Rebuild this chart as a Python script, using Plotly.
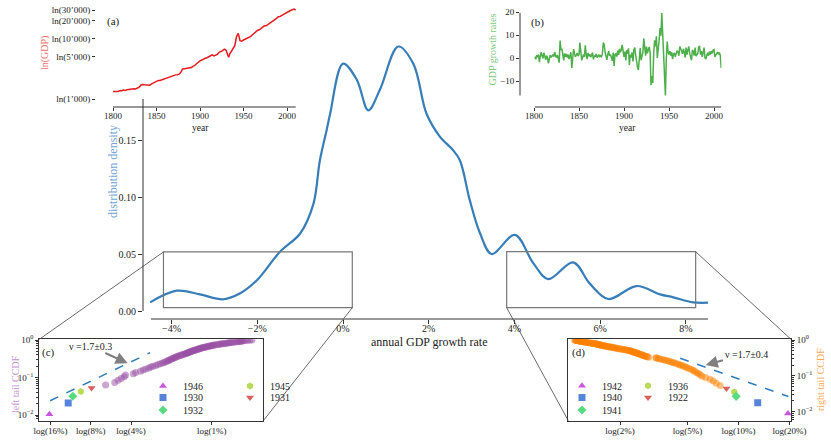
import math
import plotly.graph_objects as go

# ---------------- data ----------------
gdp_years = [1800, 1802, 1804, 1806, 1808, 1810, 1812, 1814, 1816, 1818,
             1820, 1822, 1824, 1826, 1828, 1830, 1832, 1834, 1836, 1838,
             1840, 1842, 1844, 1846, 1848, 1850, 1852, 1854, 1856, 1858,
             1860, 1862, 1864, 1866, 1868, 1870, 1872, 1874, 1876, 1878,
             1880, 1882, 1884, 1886, 1888, 1890, 1892, 1894, 1896, 1898,
             1900, 1902, 1904, 1906, 1908, 1910, 1912, 1914, 1916, 1918,
             1920, 1922, 1924, 1926, 1928, 1930, 1932, 1933, 1934, 1936, 1938,
             1940, 1942, 1944, 1946, 1948, 1950, 1952, 1954, 1956, 1958,
             1960, 1962, 1964, 1966, 1968, 1970, 1972, 1974, 1976, 1978,
             1980, 1982, 1984, 1986, 1988, 1990, 1992, 1994, 1996, 1998,
             2000, 2002, 2004, 2006, 2008, 2010]
gdp_level = [1330, 1340, 1350, 1330, 1380, 1370, 1410, 1390, 1420, 1440,
             1450, 1470, 1480, 1470, 1500, 1570, 1700, 1740, 1720, 1720,
             1690, 1700, 1770, 1830, 1880, 1940, 2040, 2030, 2080, 2160,
             2210, 2230, 2300, 2350, 2370, 2460, 2520, 2540, 2590, 2780,
             3170, 3200, 3230, 3260, 3300, 3330, 3500, 3610, 3870, 4150,
             4320, 4450, 4680, 4770, 4860, 5010, 5330, 5430, 5220, 5380,
             5540, 6000, 6130, 6380, 6760, 6500, 5350, 4960, 5540, 6250, 6840,
             7700, 10940, 12330, 9320, 9130, 9600, 9900, 10100, 10500, 10940,
             11600, 12330, 13100, 13800, 14200, 14900, 15700, 16500, 16500, 17300,
             18250, 18600, 20100, 21100, 22000, 23400, 23600, 24600, 25600, 26900,
             28300, 28600, 29700, 30600, 31300, 30300]

growth_years = list(range(1801, 2009))
growth_rate = [
    0.5, -0.5, 1.2, 0.3, 1.5, -1.8, 0.8, 2.5, 1.0, -0.2,
    2.3, 0.5, -0.8, 1.0, 0.2, -2.3, 0.5, 1.2, 0.3, 0.8,
    1.5, 0.6, 2.6, 0.9, 0.2, 1.3, -0.5, -2.0, 7.6, 3.5,
    4.0, 1.5, -1.0, 2.0, 0.5, 1.8, 0.2, 1.5, -0.5, 1.0,
    2.5, -4.3, 1.2, 3.9, 2.0, 0.5, 1.3, 2.2, 0.8, 1.5,
    6.7, 1.0, -1.0, 0.2, 1.5, 0.5, 5.5, 1.3, -0.5, 2.2,
    0.8, 1.6, 0.3, 1.2, 2.4, -0.6, 1.0, 0.5, 1.8, 0.2,
    0.9, 1.5, 0.4, 1.0, 0.6, 1.9, 6.7, 5.8, 2.5, 1.0,
    -0.8, 1.7, 3.0, 0.9, 1.5, 0.2, -1.2, 2.4, -3.5, 1.6,
    2.0, 0.6, 3.2, 1.3, 4.0, 2.5, 3.5, 5.7, 2.0, 0.5,
    2.8, -1.0, 3.5, 1.8, 4.2, -3.0, 1.5, 0.2, 2.4, -1.5,
    3.7, 4.5, 1.2, -2.0, -4.0, -5.2, 2.3, 4.3, -1.0, 0.5,
    2.5, 8.5, 3.0, 1.0, 5.0, 2.0, 3.6, 4.8, 2.5, -11.8,
    -7.9, -10.9, 2.0, 7.7, 5.0, 9.45, 0.0, 3.0, 7.4, 13.0,
    9.7, 19.6, 10.0, 0.8, -9.5, -16.3, -0.5, 7.2, 2.5, 1.5,
    3.0, 1.0, 2.5, -0.5, 1.8, 2.2, 0.5, 1.5, 3.2, 2.6,
    1.0, 5.0, 3.5, 3.0, 1.8, 4.0, 2.5, 0.2, 4.5, 1.5,
    3.5, 5.0, 2.0, 0.0, -1.0, 3.5, 2.8, 1.0, 4.5, 0.8,
    1.5, 2.0, 4.8, 5.0, 1.5, 3.0, 0.5, 2.5, 4.5, 0.0,
    -0.5, 1.2, 2.3, 1.0, 2.8, 1.5, 3.0, 2.0, 3.5, 3.7,
    0.5, 1.2, 2.2, 2.6, 1.5, 2.4, 1.0, -4.3]

kde_x = [-4.5, -3.88, -3.34, -2.79, -2.40, -2.01, -1.47, -1.0, -0.69, -0.54,
         -0.38, -0.30, 0.0, 0.32, 0.59, 0.86, 1.29, 1.64, 1.95, 2.26,
         2.57, 2.73, 2.96, 3.20, 3.47, 4.01, 4.44, 4.79, 5.37, 5.76,
         6.19, 6.85, 7.40, 7.71, 8.17, 8.52]
kde_density = [0.0076, 0.0178, 0.0146, 0.0103, 0.0155, 0.027, 0.052, 0.068, 0.094, 0.132,
               0.159, 0.173, 0.217, 0.203, 0.176, 0.194, 0.232, 0.217, 0.173, 0.153,
               0.141, 0.132, 0.097, 0.068, 0.050, 0.0667, 0.042, 0.028, 0.0427, 0.024,
               0.0105, 0.0219, 0.0146, 0.012, 0.0076, 0.0073]

# left tail: magnitudes of negative growth (%)
left_special_years = [1946, 1930, 1932, 1945, 1931]
left_special_vals = [16.3, 11.8, 10.9, 9.5, 7.9]
left_bulk = [6.2, 5.3, 5.0, 4.75, 4.5, 4.4, 3.85, 3.7, 3.4, 3.25,
             3.1, 2.95, 2.85, 2.75, 2.62, 2.52, 2.42, 2.33, 2.27, 2.2,
             2.15, 2.1, 2.06, 2.02, 1.97, 1.94, 1.9, 1.86, 1.83, 1.79,
             1.75, 1.71, 1.68, 1.64, 1.6, 1.57, 1.54, 1.52, 1.49, 1.47,
             1.45, 1.42, 1.4, 1.38, 1.36, 1.34, 1.31, 1.29, 1.27, 1.25,
             1.23, 1.21, 1.19, 1.17, 1.15, 1.13, 1.11, 1.09, 1.07, 1.05,
             1.03, 1.01, 0.99, 0.97, 0.96, 0.93, 0.9, 0.88, 0.86, 0.84,
             0.82, 0.8, 0.78, 0.76, 0.74, 0.73, 0.71, 0.69, 0.67, 0.65,
             0.64, 0.62, 0.61, 0.6, 0.59, 0.58, 0.56, 0.54, 0.52, 0.5]

right_special_years = [1942, 1940, 1941, 1936, 1922]
right_special_vals = [19.6, 13.0, 9.7, 9.45, 8.5]
right_bulk = [7.8, 7.4, 7.1, 6.8, 6.4, 6.1, 5.95, 5.8, 5.65, 5.5,
              5.4, 5.25, 5.1, 4.95, 4.85, 4.72, 4.6, 4.5, 4.38, 4.25,
              4.15, 4.05, 3.94, 3.85, 3.75, 3.65, 3.55, 3.45, 3.37, 3.29,
              3.25, 2.95, 2.9, 2.85, 2.81, 2.77, 2.73, 2.7, 2.66, 2.62,
              2.58, 2.55, 2.52, 2.49, 2.46, 2.43, 2.4, 2.37, 2.34, 2.31,
              2.29, 2.25, 2.22, 2.18, 2.14, 2.1, 2.06, 2.02, 1.98, 1.94,
              1.91, 1.88, 1.85, 1.82, 1.79, 1.76, 1.73, 1.71, 1.68, 1.66,
              1.64, 1.62, 1.6, 1.58, 1.56, 1.54, 1.52, 1.5, 1.49, 1.47,
              1.46, 1.45, 1.43, 1.41, 1.39, 1.37, 1.35, 1.33, 1.31, 1.29,
              1.28, 1.26, 1.25, 1.23, 1.21, 1.2, 1.18, 1.17, 1.16, 1.15,
              1.14, 1.13, 1.12, 1.11, 1.1, 1.09, 1.08]

left_fit_x = [16.1, 2.89]
left_fit_y = [0.024, 0.458]
right_fit_x = [4.53, 19.7]
right_fit_y = [0.31, 0.0266]

main_xticks = [-4, -2, 0, 2, 4, 6, 8]
main_xticklabels = ["−4%", "−2%", "0%", "2%", "4%", "6%", "8%"]
main_yticks = [0.0, 0.05, 0.10, 0.15]
main_yticklabels = ["0.00", "0.05", "0.10", "0.15"]
gdp_ticks = [1000, 5000, 10000, 20000, 30000]
gdp_ticklabels = ["ln(1’000)", "ln(5’000)", "ln(10’000)", "ln(20’000)", "ln(30’000)"]
year_ticks = [1800, 1850, 1900, 1950, 2000]
growth_ticks = [-10, 0, 10, 20]
growth_ticklabels = ["−10", "0", "10", "20"]
left_xticks = [16, 8, 4, 1]
left_xticklabels = ["log(16%)", "log(8%)", "log(4%)", "log(1%)"]
right_xticks = [2, 5, 10, 20]
right_xticklabels = ["log(2%)", "log(5%)", "log(10%)", "log(20%)"]
ccdf_ticks = [1, 0.1, 0.01]
ccdf_ticklabels = ["10<sup>0</sup>", "10<sup>−1</sup>", "10<sup>−2</sup>"]


def ccdf(sample):
    n = len(sample)
    return [sum(1 for w in sample if w >= v) / n for v in sample]


left_sample = left_special_vals + left_bulk
left_cc = ccdf(left_sample)
right_sample = right_special_vals + right_bulk
right_cc = ccdf(right_sample)

# ---------------- geometry ----------------
W, H = 831, 442
def fx(px): return px / W
def fy(py): return 1 - py / H

FONT = "Liberation Serif, DejaVu Serif, serif"
INK = "#222222"

X0, XS = 343.0, 42.85
Y0, YS = 311.0, 1140.0
def mpx(x): return X0 + XS * x
def mpy(y): return Y0 - YS * y
M_L, M_R, M_T, M_B = 143, 708, 37, 319

SYM = {"tri": ("triangle-up", "#c957db"), "sq": ("square", "#5784db"),
       "dia": ("diamond", "#57db80"), "hex": ("hexagon", "#b9db57"),
       "tdn": ("triangle-down", "#db5f57")}
left_styles = ["tri", "sq", "dia", "hex", "tdn"]
right_styles = ["tri", "sq", "dia", "hex", "tdn"]

fig = go.Figure()

fig.add_trace(go.Scatter(x=kde_x, y=kde_density, mode="lines",
                         line=dict(color="#377eb8", width=2.2, shape="spline", smoothing=1.0),
                         xaxis="x", yaxis="y", showlegend=False, hoverinfo="skip"))
fig.add_trace(go.Scatter(x=gdp_years, y=gdp_level, mode="lines",
                         line=dict(color="#e41a1c", width=1.5),
                         xaxis="x2", yaxis="y2", showlegend=False))
fig.add_trace(go.Scatter(x=growth_years, y=growth_rate, mode="lines",
                         line=dict(color="#4daf4a", width=1.5),
                         xaxis="x3", yaxis="y3", showlegend=False))
fig.add_trace(go.Scatter(x=left_bulk, y=left_cc[5:], mode="markers",
                         marker=dict(color="rgba(152,78,163,0.5)", size=7, line=dict(width=0)),
                         xaxis="x4", yaxis="y4", showlegend=False))
fig.add_trace(go.Scatter(x=left_fit_x, y=left_fit_y, mode="lines",
                         line=dict(color="#2f7ec0", width=1.5, dash="dash"),
                         xaxis="x4", yaxis="y4", showlegend=False))
fig.add_trace(go.Scatter(x=right_bulk, y=right_cc[5:], mode="markers",
                         marker=dict(color="rgba(255,127,0,0.5)", size=7, line=dict(width=0)),
                         xaxis="x5", yaxis="y5", showlegend=False))
fig.add_trace(go.Scatter(x=right_fit_x, y=right_fit_y, mode="lines",
                         line=dict(color="#2f7ec0", width=1.5, dash="dash"),
                         xaxis="x5", yaxis="y5", showlegend=False))

left_rows = {"legend2": [0, 3], "legend3": [1, 4], "legend4": [2]}
right_rows = {"legend5": [0, 3], "legend6": [1, 4], "legend7": [2]}
for leg, idxs in left_rows.items():
    for i in idxs:
        sym, col = SYM[left_styles[i]]
        fig.add_trace(go.Scatter(x=[left_special_vals[i]], y=[left_cc[i]], mode="markers",
                                 marker=dict(symbol=sym, color=col, size=7, line=dict(width=0)),
                                 name=str(left_special_years[i]), legend=leg,
                                 xaxis="x4", yaxis="y4"))
for leg, idxs in right_rows.items():
    for i in idxs:
        sym, col = SYM[right_styles[i]]
        fig.add_trace(go.Scatter(x=[right_special_vals[i]], y=[right_cc[i]], mode="markers",
                                 marker=dict(symbol=sym, color=col, size=7, line=dict(width=0)),
                                 name=str(right_special_years[i]), legend=leg,
                                 xaxis="x5", yaxis="y5"))

tickfont_main = dict(family=FONT, size=10, color=INK)
tickfont_in = dict(family=FONT, size=9, color=INK)
common = dict(showgrid=False, zeroline=False, ticks="outside", tickcolor="#333",
              tickwidth=1, color=INK, automargin=False)

layout = dict(
    template="none",
    width=W, height=H, margin=dict(l=0, r=0, t=0, b=0, pad=0, autoexpand=False),
    paper_bgcolor="white", plot_bgcolor="white",
    font=dict(family=FONT, color=INK),
    xaxis=dict(domain=[fx(M_L), fx(M_R)], range=[(M_L - X0) / XS, (M_R - X0) / XS],
               tickvals=main_xticks, ticktext=main_xticklabels, ticklen=4,
               ticklabelstandoff=-4,
               tickfont=tickfont_main, showline=False, anchor="y", **common),
    yaxis=dict(domain=[fy(M_B), fy(M_T)], range=[(Y0 - M_B) / YS, (Y0 - M_T) / YS],
               tickvals=main_yticks, ticktext=main_yticklabels, ticklen=4,
               tickfont=tickfont_main, showline=False, anchor="x", **common),
)

A_L, A_R, A_T, A_B = 96, 297, 8, 107
a_x0, a_xs = 113.0, 0.87
a_y1000, a_ys = 99.0, 26.1
def a_ln(py): return math.log(1000) + (a_y1000 - py) / a_ys
layout["xaxis2"] = dict(domain=[fx(A_L), fx(A_R)],
                        range=[1800 + (A_L - a_x0) / a_xs, 1800 + (A_R - a_x0) / a_xs],
                        tickvals=year_ticks, ticklen=3, tickfont=tickfont_in,
                        ticklabelstandoff=-3,
                        anchor="y2", showline=False, **common)
layout["yaxis2"] = dict(domain=[fy(A_B), fy(A_T)], type="log",
                        range=[a_ln(A_B) / math.log(10), a_ln(A_T) / math.log(10)],
                        tickvals=gdp_ticks, ticktext=gdp_ticklabels, ticklen=3,
                        tickfont=tickfont_in, anchor="x2", showline=False, **common)
B_L, B_R, B_T, B_B = 520, 721.5, 8, 107
b_x0, b_xs = 534.0, 0.9
b_y0, b_ys = 58.0, 2.3
layout["xaxis3"] = dict(domain=[fx(B_L), fx(B_R)],
                        range=[1800 + (B_L - b_x0) / b_xs, 1800 + (B_R - b_x0) / b_xs],
                        tickvals=year_ticks, ticklen=3, tickfont=tickfont_in,
                        ticklabelstandoff=-3,
                        anchor="y3", showline=False, **common)
layout["yaxis3"] = dict(domain=[fy(B_B), fy(B_T)],
                        range=[(b_y0 - B_B) / b_ys, (b_y0 - B_T) / b_ys],
                        tickvals=growth_ticks, ticktext=growth_ticklabels, ticklen=3,
                        tickfont=tickfont_in, anchor="x3", showline=False, **common)
C_L, C_R, C_T, C_B = 39.3, 263.3, 339.3, 420.7
c_x1, c_xs = 211.7, 40.3
c_y0, c_ys = 340.0, 37.5
minor_vals = [k * 10 ** e for e in (-3, -2, -1) for k in range(2, 10)]
layout["xaxis4"] = dict(domain=[fx(C_L), fx(C_R)], type="log",
                        range=[math.log10(2 ** ((c_x1 - C_L) / c_xs)), math.log10(2 ** ((c_x1 - C_R) / c_xs))],
                        tickvals=left_xticks, ticktext=left_xticklabels, ticklen=3,
                        ticklabelstandoff=-2,
                        tickfont=tickfont_in, anchor="y4", showline=True, mirror=True,
                        linecolor="#333", linewidth=1, **common)
layout["yaxis4"] = dict(domain=[fy(C_B), fy(C_T)], type="log",
                        range=[-(C_B - c_y0) / c_ys, -(C_T - c_y0) / c_ys],
                        tickvals=ccdf_ticks, ticktext=ccdf_ticklabels, ticklen=3,
                        minor=dict(tickvals=minor_vals, ticklen=2, ticks="outside", tickcolor="#333"),
                        tickfont=tickfont_in, anchor="x4", showline=True, mirror=True,
                        linecolor="#333", linewidth=1, **common)
D_L, D_R, D_T, D_B = 568.3, 791.0, 339.3, 420.7
d_x2, d_xs = 620.0, 51.0
d_y0, d_ys = 340.0, 35.85
layout["xaxis5"] = dict(domain=[fx(D_L), fx(D_R)], type="log",
                        range=[math.log10(2 * 2 ** ((D_L - d_x2) / d_xs)), math.log10(2 * 2 ** ((D_R - d_x2) / d_xs))],
                        tickvals=right_xticks, ticktext=right_xticklabels, ticklen=3,
                        ticklabelstandoff=-2,
                        tickfont=tickfont_in, anchor="y5", showline=True, mirror=True,
                        linecolor="#333", linewidth=1, **common)
layout["yaxis5"] = dict(domain=[fy(D_B), fy(D_T)], type="log", side="right",
                        range=[-(D_B - d_y0) / d_ys, -(D_T - d_y0) / d_ys],
                        tickvals=ccdf_ticks, ticktext=ccdf_ticklabels, ticklen=3,
                        minor=dict(tickvals=minor_vals, ticklen=2, ticks="outside", tickcolor="#333"),
                        tickfont=tickfont_in, anchor="x5", showline=True, mirror=True,
                        linecolor="#333", linewidth=1, **common)

legfont = dict(family=FONT, size=10, color=INK)
def leg(xpx, ypx, ew):
    return dict(x=fx(xpx), y=fy(ypx), xanchor="left", yanchor="middle",
                orientation="h", entrywidth=ew, entrywidthmode="pixels",
                bgcolor="rgba(0,0,0,0)", font=legfont, itemwidth=30,
                tracegroupgap=0, borderwidth=0)
layout["legend2"] = leg(143, 386, 42)
layout["legend3"] = leg(143, 397.5, 42)
layout["legend4"] = leg(143, 410, 42)
layout["legend5"] = leg(562, 385.7, 21)
layout["legend6"] = leg(562, 397.5, 21)
layout["legend7"] = leg(562, 410, 21)
layout["showlegend"] = True
layout["legend"] = dict(visible=False)

shapes = []
spine = dict(color="#333", width=1)
shapes.append(dict(type="line", xref="x", yref="y domain", x0=(151 - X0) / XS, x1=(M_R - X0) / XS,
                   y0=0, y1=0, line=spine))
shapes.append(dict(type="line", xref="x domain", yref="y", x0=0, x1=0, y0=0, y1=(Y0 - 99) / YS, line=spine))
shapes.append(dict(type="line", xref="x2", yref="y2 domain", x0=1800, x1=2010, y0=0, y1=0, line=spine))
shapes.append(dict(type="line", xref="x2 domain", yref="y2", x0=0, x1=0,
                   y0=math.log10(1000), y1=math.log10(30000), line=spine))
shapes.append(dict(type="line", xref="x3", yref="y3 domain", x0=growth_years[0], x1=growth_years[-1],
                   y0=0, y1=0, line=spine))
shapes.append(dict(type="line", xref="x3 domain", yref="y3", x0=0, x1=0,
                   y0=min(growth_rate), y1=max(growth_rate), line=spine))

left_win = (-4.19, 0.217, 0.0029, 0.0518)
right_win = (3.82, 8.23, 0.0029, 0.0520)
for (xa, xb, ya, yb) in (left_win, right_win):
    shapes.append(dict(type="rect", xref="x", yref="y", x0=xa, x1=xb, y0=ya, y1=yb,
                       line=dict(color="#777", width=1.2), fillcolor="rgba(0,0,0,0)"))
conn = dict(color="#444", width=0.8)
def pline(p, q):
    return dict(type="line", xref="paper", yref="paper", x0=fx(p[0]), y0=fy(p[1]),
                x1=fx(q[0]), y1=fy(q[1]), line=conn)
shapes.append(pline((mpx(left_win[0]), mpy(left_win[3])), (C_L, C_T)))
shapes.append(pline((mpx(left_win[1]), mpy(left_win[2])), (C_R, C_B)))
shapes.append(pline((mpx(right_win[1]), mpy(right_win[3])), (D_R, D_T)))
shapes.append(pline((mpx(right_win[0]), mpy(right_win[2])), (D_L, D_B)))
layout["shapes"] = shapes

def txt(text, xpx, ypx, size=10, color=INK, angle=0, xanchor="center"):
    return dict(text=text, x=fx(xpx), y=fy(ypx), xref="paper", yref="paper",
                showarrow=False, textangle=angle, xanchor=xanchor, yanchor="middle",
                font=dict(family=FONT, size=size, color=color))

ann = [
    txt("(a)", 113, 21, 11),
    txt("(b)", 537, 22, 11),
    txt("(c)", 48, 352.7, 11),
    txt("(d)", 578, 352.7, 11),
    txt("year", 200, 128, 9.5),
    txt("year", 627, 128, 9.5),
    txt("ln(GDP)", 45, 53, 10, "#f07070", -90),
    txt("GDP growth rates", 491.5, 50, 10, "#80c97e", -90),
    txt("distribution density", 113, 172, 12, "#6fa3d4", -90),
    txt("annual GDP growth rate", 429, 342, 12),
    txt("left tail CCDF", 15, 384, 10, "#c98fd2", -90),
    txt("right tail CCDF", 820, 380, 10, "#ffa64d", -90),
]
arrow_common = dict(xref="paper", yref="paper", showarrow=True, arrowhead=2, arrowsize=1.1,
                    arrowwidth=2.2, arrowcolor="#808080",
                    font=dict(family=FONT, size=10, color=INK))
ann.append(dict(text="ν =1.7±0.3", x=fx(127.7), y=fy(363.3), ax=90 - 127.7, ay=346 - 363.3, **arrow_common))
ann.append(dict(text="ν =1.7±0.4", x=fx(705.7), y=fy(365), ax=746 - 705.7, ay=354 - 365, **arrow_common))
layout["annotations"] = ann

fig.update_layout(**layout)
fig.write_html("out.html", config={"displayModeBar": False},
               post_script="document.body.style.margin='0px';")
